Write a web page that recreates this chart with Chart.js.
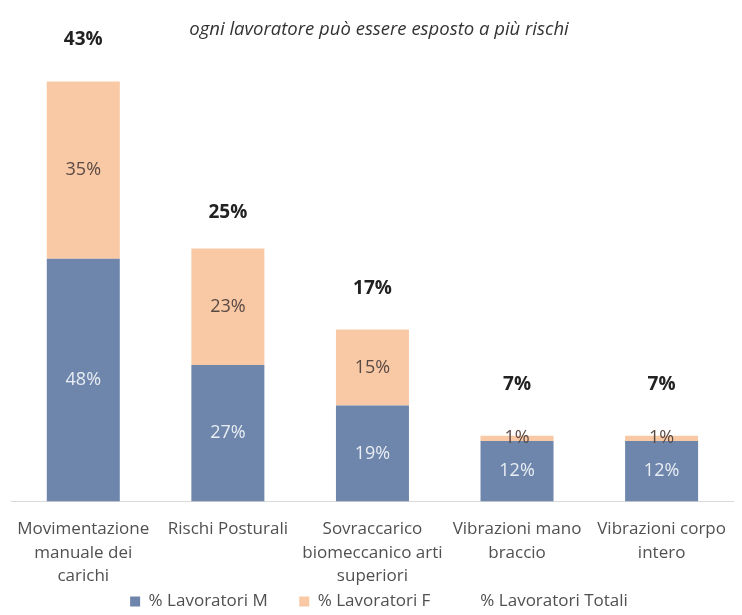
<!DOCTYPE html>
<html lang="it">
<head>
<meta charset="utf-8">
<title>Rischi lavoratori</title>
<script src="https://cdn.jsdelivr.net/npm/chart.js@4/dist/chart.umd.min.js"></script>
<style>
  html, body { margin: 0; padding: 0; background: #fff; }
  #box { width: 742px; height: 615px; }
</style>
</head>
<body>
<div id="box"><canvas id="graficaRischi"></canvas></div>
<script>
const categorie = [
    ['Movimentazione', 'manuale dei', 'carichi'],
    ['Rischi Posturali'],
    ['Sovraccarico', 'biomeccanico arti', 'superiori'],
    ['Vibrazioni mano', 'braccio'],
    ['Vibrazioni corpo', 'intero']
];
const lavoratoriM = [48, 27, 19, 12, 12];
const lavoratoriF = [35, 23, 15, 1, 1];
const lavoratoriTotali = [43, 25, 17, 7, 7];

const coloreM = '#6e86ab';
const coloreF = '#f9c8a5';
const font = "'Open Sans', 'Liberation Sans', sans-serif";

const canvas = document.getElementById('graficaRischi');
const ctx = canvas ? canvas.getContext('2d') : null;

// etichette dentro le barre e totali sopra
const etichette = {
    id: 'etichette',
    afterDatasetsDraw(chart) {
        const c = chart.ctx;
        c.save();
        c.textAlign = 'center';
        c.textBaseline = 'middle';

        [0, 1].forEach(i => {
            const ds = chart.data.datasets[i];
            c.font = `18px ${font}`;
            c.fillStyle = i === 0 ? '#e9edf4' : '#5a4a44';
            chart.getDatasetMeta(i).data.forEach((bar, j) => {
                c.fillText(ds.data[j] + '%', bar.x, (bar.y + bar.base) / 2);
            });
        });

        const tot = chart.data.datasets[2];
        c.font = `bold 19px ${font}`;
        c.fillStyle = '#222';
        chart.getDatasetMeta(2).data.forEach((pt, j) => {
            c.fillText(tot.data[j] + '%', pt.x, pt.y);
        });
        c.restore();
    }
};

function spazio(testo, n) {
    return testo + ' '.repeat(n);
}

if (ctx) {
    new Chart(ctx, {
        type: 'bar',
        data: {
            labels: categorie,
            datasets: [{
                label: '% Lavoratori M',
                data: lavoratoriM,
                backgroundColor: coloreM,
                stack: 'rischi',
                categoryPercentage: 1,
                barPercentage: 0.505
            }, {
                label: '% Lavoratori F',
                data: lavoratoriF,
                backgroundColor: coloreF,
                stack: 'rischi',
                categoryPercentage: 1,
                barPercentage: 0.505
            }, {
                type: 'line',
                label: '% Lavoratori Totali',
                data: lavoratoriTotali,
                yAxisID: 'yTot',
                showLine: false,
                pointRadius: 0,
                backgroundColor: 'rgba(0,0,0,0)',
                borderColor: 'rgba(0,0,0,0)',
                borderWidth: 0
            }]
        },
        options: {
            responsive: true,
            maintainAspectRatio: false,
            animation: false,
            layout: { padding: { left: 11, right: -5, top: 0, bottom: -5 } },
            scales: {
                x: {
                    stacked: true,
                    grid: { display: false, drawTicks: false },
                    border: { display: true, color: '#d9d9d9', width: 1 },
                    ticks: {
                        color: '#505050',
                        font: { family: font, size: 17, lineHeight: 1.38 },
                        padding: 16,
                        maxRotation: 0,
                        autoSkip: false
                    },
                    // il padding va contato una volta sola
                    afterFit(scale) {
                        scale.height -= scale.options.ticks.padding;
                    }
                },
                y: {
                    stacked: true,
                    display: false,
                    min: 0,
                    max: 90
                },
                yTot: {
                    display: false,
                    min: -5.16,
                    max: 42.3
                }
            },
            plugins: {
                title: {
                    display: true,
                    text: 'ogni lavoratore può essere esposto a più rischi',
                    color: '#333',
                    font: { family: font, size: 18.5, style: 'italic', weight: 'normal', lineHeight: 1.2 },
                    padding: { top: 19, bottom: 5 }
                },
                legend: {
                    position: 'bottom',
                    labels: {
                        color: '#505050',
                        font: { family: font, size: 17 },
                        boxWidth: 10,
                        boxHeight: 10,
                        padding: 5,
                        generateLabels(chart) {
                            const base = Chart.defaults.plugins.legend.labels.generateLabels(chart);
                            return base.map((item, i) => {
                                if (i < 2) item.text = spazio(item.text, 6);
                                return item;
                            });
                        }
                    }
                },
                tooltip: { enabled: false }
            }
        },
        plugins: [etichette]
    });
}
</script>
</body>
</html>
